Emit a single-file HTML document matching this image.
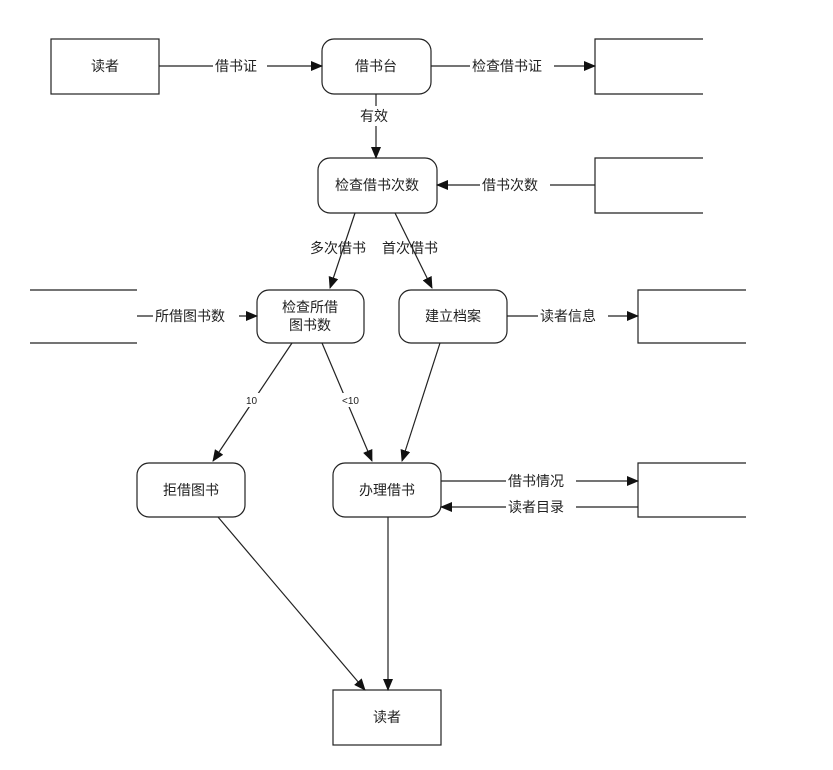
<!DOCTYPE html>
<html><head><meta charset="utf-8"><style>
body{margin:0;background:#fff}
svg text{font-family:"Liberation Sans","Noto Sans CJK SC",sans-serif;font-size:14px;fill:#222}
</style></head><body>
<svg width="833" height="765" xmlns="http://www.w3.org/2000/svg">
<defs><marker id="a" markerWidth="12" markerHeight="10" refX="11" refY="5" orient="auto" markerUnits="userSpaceOnUse"><path d="M0,0 L12,5 L0,10 z" fill="#111"/></marker></defs>
<g fill="none" stroke="#222" stroke-width="1.2">
<rect x="51" y="39" width="108" height="55"/>
<rect x="322" y="39" width="109" height="55" rx="12"/>
<rect x="318" y="158" width="119" height="55" rx="12"/>
<rect x="257" y="290" width="107" height="53" rx="12"/>
<rect x="399" y="290" width="108" height="53" rx="12"/>
<rect x="137" y="463" width="108" height="54" rx="12"/>
<rect x="333" y="463" width="108" height="54" rx="12"/>
<rect x="333" y="690" width="108" height="55"/>
<path d="M703,39 H595 V94 H703"/>
<path d="M703,158 H595 V213 H703"/>
<path d="M30,290 H137 M30,343 H137 M746,290 H638 V343 H746"/>
<path d="M746,463 H638 V517 H746"/>
</g>
<g stroke="#222" stroke-width="1.2" fill="none" marker-end="url(#a)">
<path d="M159,66 H322"/>
<path d="M431,66 H595"/>
<path d="M376,94 V158"/>
<path d="M595,185 H437"/>
<path d="M355,213 L330,288"/>
<path d="M395,213 L432,288"/>
<path d="M137,316 H257"/>
<path d="M507,316 H638"/>
<path d="M292,343 L213,461"/>
<path d="M322,343 L372,461"/>
<path d="M440,343 L402,461"/>
<path d="M218,517 L365,690"/>
<path d="M388,517 V690"/>
<path d="M441,481 H638"/>
<path d="M638,507 H441"/>
</g>
<g>
<rect x="213" y="56" width="54" height="20" fill="#fff"/><text x="215" y="71">借书证</text>
<rect x="470" y="56" width="84" height="20" fill="#fff"/><text x="472" y="71">检查借书证</text>
<rect x="355" y="106" width="40" height="20" fill="#fff"/><text x="360" y="121">有效</text>
<rect x="480" y="175" width="70" height="20" fill="#fff"/><text x="482" y="190">借书次数</text>
<text x="310" y="253">多次借书</text><text x="382" y="253">首次借书</text>
<rect x="153" y="306" width="86" height="20" fill="#fff"/><text x="155" y="321">所借图书数</text>
<rect x="538" y="306" width="70" height="20" fill="#fff"/><text x="540" y="321">读者信息</text>
<rect x="245" y="393" width="16" height="14" fill="#fff"/><text x="246" y="404" style="font-size:10px">10</text>
<rect x="341" y="393" width="20" height="14" fill="#fff"/><text x="342" y="404" style="font-size:10px">&lt;10</text>
<rect x="506" y="471" width="70" height="20" fill="#fff"/><text x="508" y="486">借书情况</text>
<rect x="506" y="497" width="70" height="20" fill="#fff"/><text x="508" y="512">读者目录</text>
<text x="105" y="71" text-anchor="middle">读者</text>
<text x="376" y="71" text-anchor="middle">借书台</text>
<text x="377" y="190" text-anchor="middle">检查借书次数</text>
<text x="310" y="312" text-anchor="middle">检查所借</text>
<text x="310" y="330" text-anchor="middle">图书数</text>
<text x="453" y="321" text-anchor="middle">建立档案</text>
<text x="191" y="495" text-anchor="middle">拒借图书</text>
<text x="387" y="495" text-anchor="middle">办理借书</text>
<text x="387" y="722" text-anchor="middle">读者</text>
</g>
</svg>
</body></html>
